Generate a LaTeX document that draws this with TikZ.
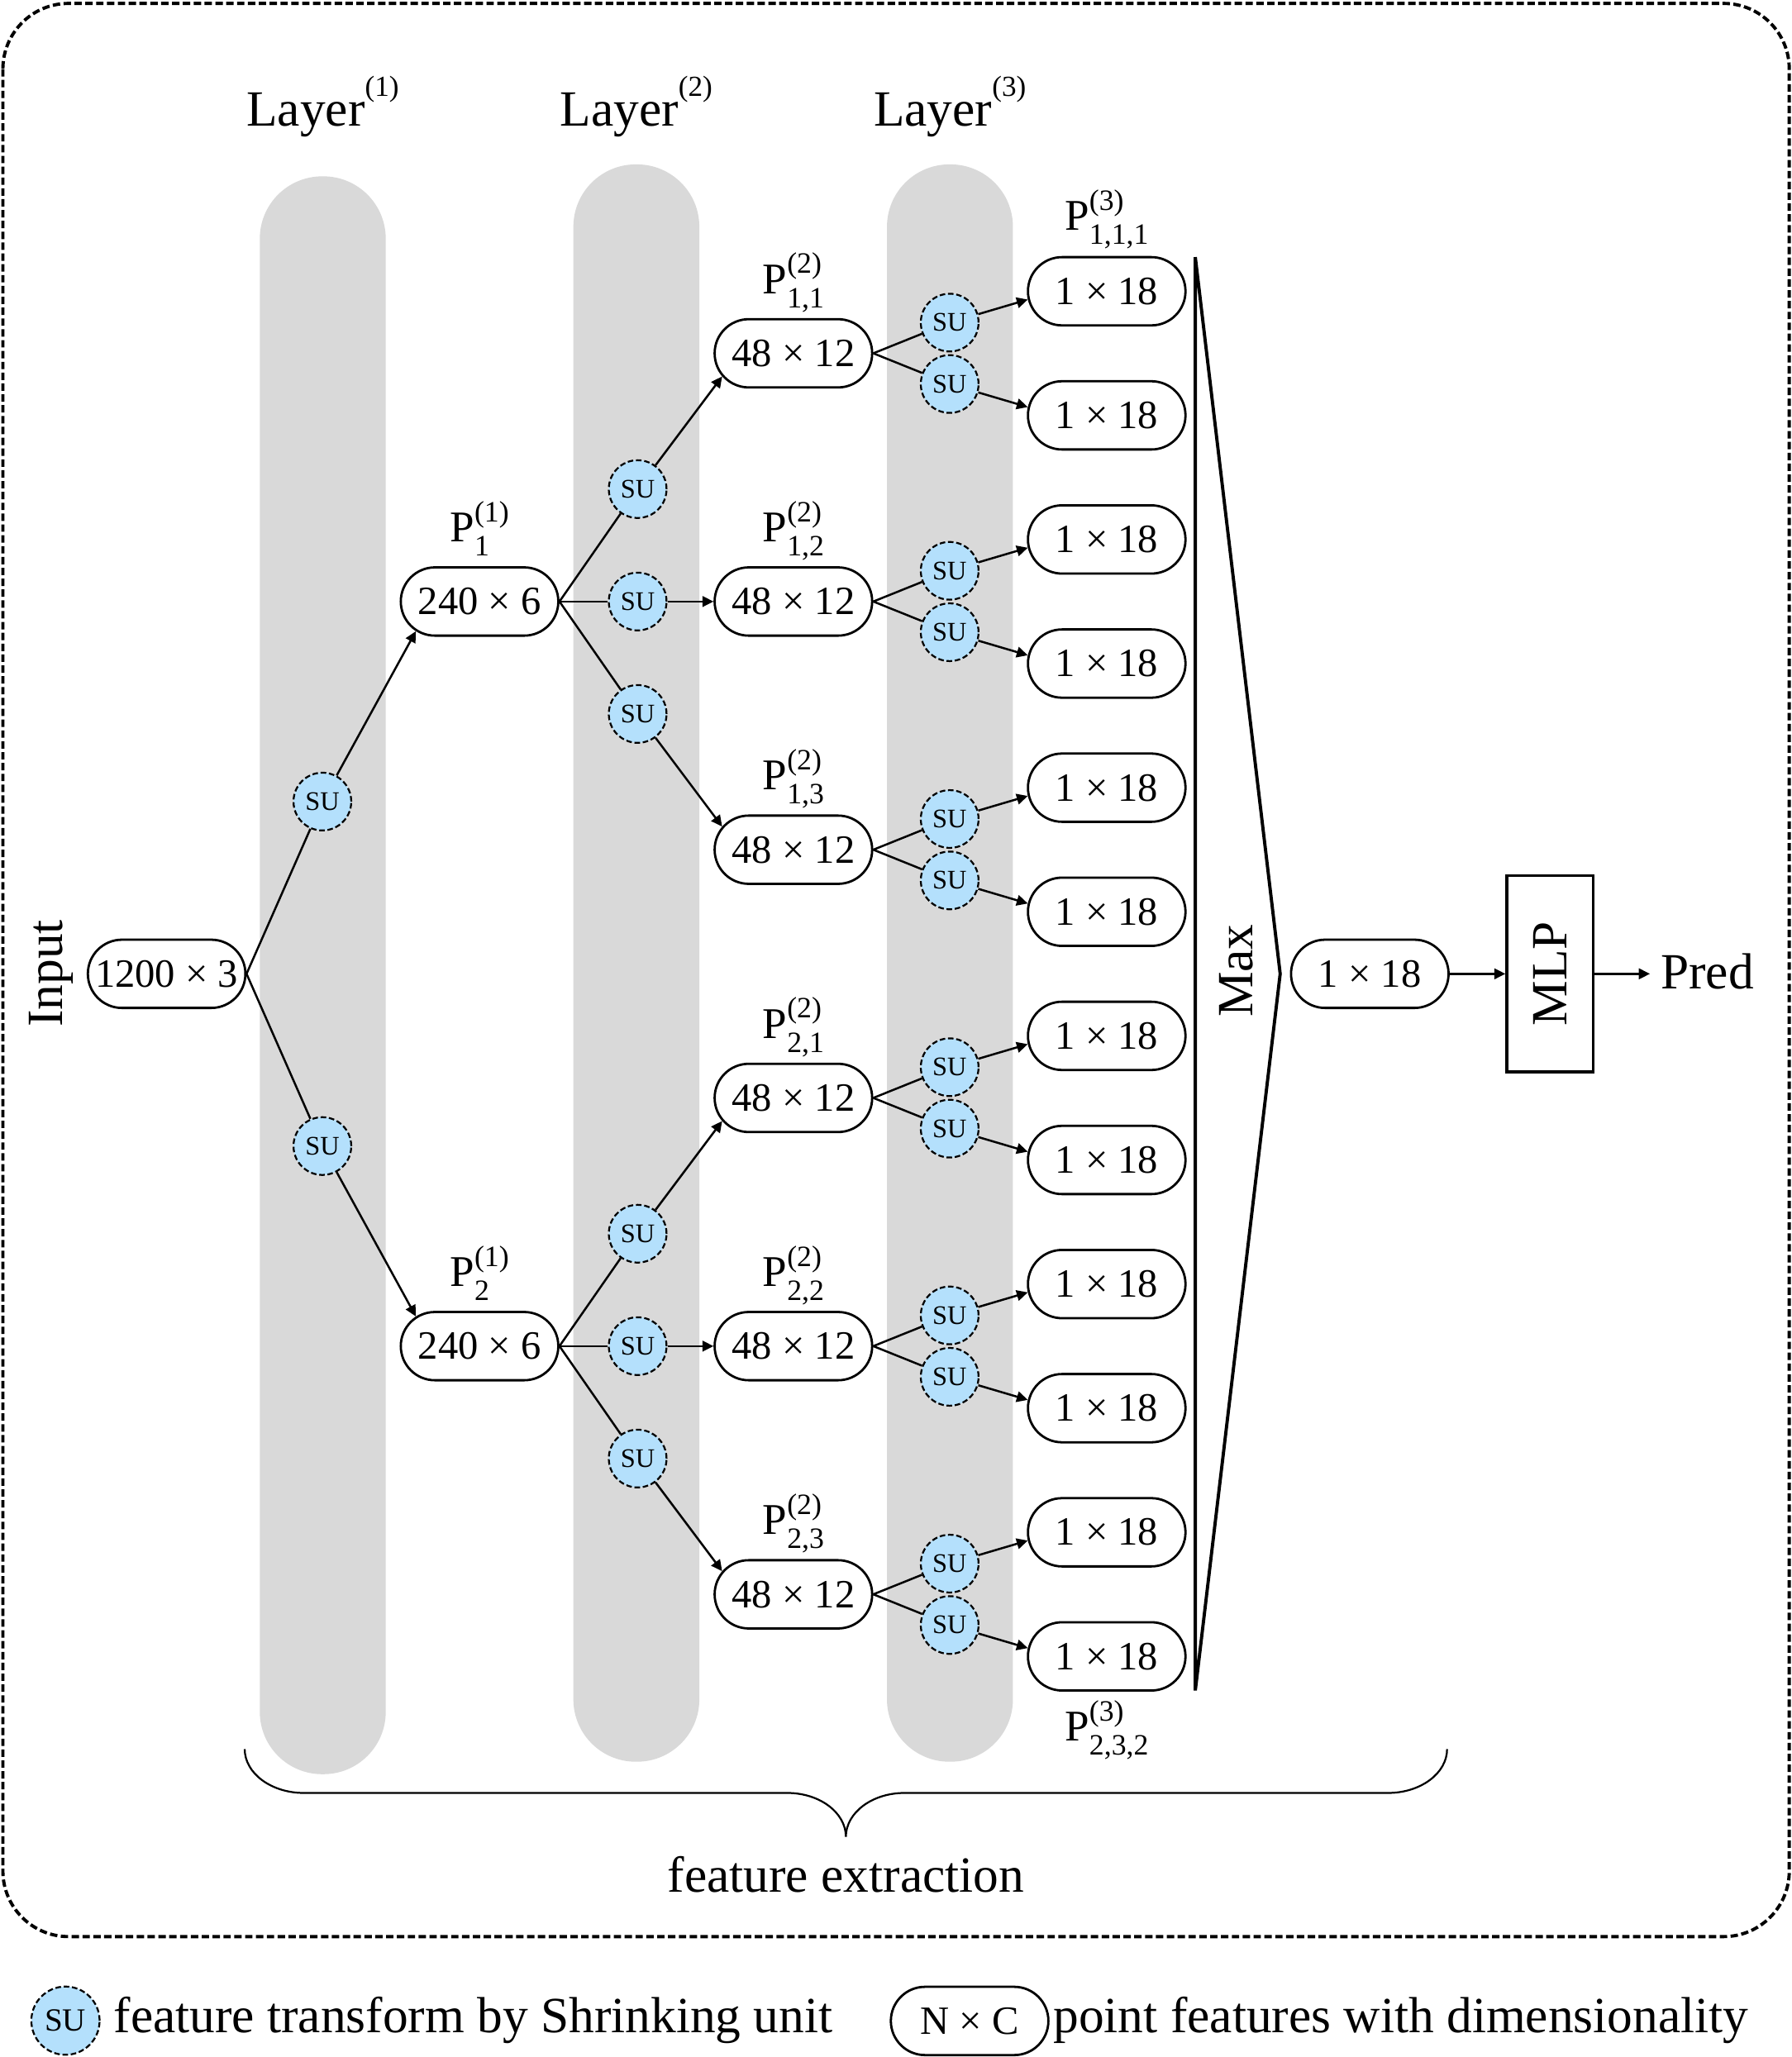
\documentclass[tikz,border=0pt]{standalone}
\usepackage{fontspec}
\setmainfont{Liberation Serif}
\usetikzlibrary{shapes.misc,arrows.meta}
\definecolor{barg}{RGB}{217,217,217}
\definecolor{sublue}{RGB}{180,224,252}
\newcommand{\PL}[2]{P\raisebox{-3.0pt}{\fontsize{6.4}{7.4}\selectfont\begin{tabular}[b]{@{}l@{}}(#1)\\#2\end{tabular}}}
\newcommand{\LL}[1]{Layer\raisebox{6.4pt}{\fontsize{6.3}{7}\selectfont(#1)}}
\begin{document}
\begin{tikzpicture}[x=0.01cm,y=-0.01cm,
  pill/.style={rounded rectangle, draw, line width=0.5pt, minimum width=1.2cm, minimum height=0.52cm, inner sep=0pt, font=\fontsize{8.7}{10}\selectfont, fill=white},
  su/.style={circle, draw, dash pattern=on 1.2pt off 0.6pt, line width=0.4pt, fill=sublue, minimum size=0.44cm, inner sep=0pt, font=\fontsize{5.8}{7}\selectfont},
  bigtxt/.style={font=\fontsize{11}{13}\selectfont, inner sep=0pt},
  plab/.style={font=\fontsize{9.5}{11}\selectfont, inner sep=0pt, anchor=base},
  conn/.style={line width=0.45pt},
  arr/.style={conn, -{Triangle[length=2.4pt,width=2.3pt]}},
  bar/.style={fill=barg, rounded corners=0.475cm}
]
\useasboundingbox (0,0) rectangle (1365.8,1568);
% outer frame
\draw[line width=0.7pt, dash pattern=on 1.6pt off 0.75pt, rounded corners=0.5cm] (2.2,2.6) rectangle (1363.7,1476.2);
% layer bars
\fill[bar] (198,134.4) rectangle (294,1352.4);
\fill[bar] (437,125.3) rectangle (533,1342.9);
\fill[bar] (676,125.3) rectangle (772,1342.9);
% layer labels
\node[bigtxt, anchor=base] (L1) at (246,95.8) {\LL{1}};
\node[bigtxt, anchor=base] (L2) at (485,95.8) {\LL{2}};
\node[bigtxt, anchor=base] (L3) at (724,95.8) {\LL{3}};
% input
\node[bigtxt, anchor=base, rotate=90] (inlab) at (47.8,742) {Input};
\node[pill] (in) at (127,742.3) {1200 × 3};
% layer 1
\node[su] (s1a) at (245.7,611) {SU};
\node[su] (s1b) at (245.7,873.6) {SU};
\node[pill] (p1) at (365.5,458.5) {240 × 6};
\node[pill] (p2) at (365.5,1026.1) {240 × 6};
\node[plab] (lp1) at (365.5,413) {\PL{1}{1}};
\node[plab] (lp2) at (365.5,980.6) {\PL{1}{2}};
\draw[conn] (in.east) -- (s1a);
\draw[conn] (in.east) -- (s1b);
\draw[arr] (s1a) -- (p1.205);
\draw[arr] (s1b) -- (p2.155);
% layer 2
\foreach \j in {0,...,5}{
  \node[pill] (b\j) at (604.7,{269.3+189.2*\j}) {48 × 12};
}
\node[plab] (lb0) at (604.7,223.8) {\PL{2}{1,1}};
\node[plab] (lb1) at (604.7,413.0) {\PL{2}{1,2}};
\node[plab] (lb2) at (604.7,602.2) {\PL{2}{1,3}};
\node[plab] (lb3) at (604.7,791.4) {\PL{2}{2,1}};
\node[plab] (lb4) at (604.7,980.6) {\PL{2}{2,2}};
\node[plab] (lb5) at (604.7,1169.8) {\PL{2}{2,3}};
\node[su] (s2a) at (486,372.8) {SU};
\node[su] (s2b) at (486,458.5) {SU};
\node[su] (s2c) at (486,544.2) {SU};
\node[su] (s2d) at (486,940.4) {SU};
\node[su] (s2e) at (486,1026.1) {SU};
\node[su] (s2f) at (486,1111.8) {SU};
\draw[conn] (p1.east) -- (s2a);
\draw[conn] (p1.east) -- (s2b);
\draw[conn] (p1.east) -- (s2c);
\draw[conn] (p2.east) -- (s2d);
\draw[conn] (p2.east) -- (s2e);
\draw[conn] (p2.east) -- (s2f);
\draw[arr] (s2a) -- (b0.198);
\draw[arr] (s2b) -- (b1.west);
\draw[arr] (s2c) -- (b2.162);
\draw[arr] (s2d) -- (b3.198);
\draw[arr] (s2e) -- (b4.west);
\draw[arr] (s2f) -- (b5.162);
% layer 3
\foreach \k in {0,...,11}{
  \node[pill] (c\k) at (843.5,{222+94.6*\k}) {1 × 18};
}
\node[plab] (lc0) at (843.5,175.5) {\PL{3}{1,1,1}};
\node[plab] (lc11) at (843.5,1327.3) {\PL{3}{2,3,2}};
\foreach \j in {0,...,5}{
  \node[su] (ta\j) at (723.8,{269.3+189.2*\j-23.4}) {SU};
  \node[su] (tb\j) at (723.8,{269.3+189.2*\j+23.4}) {SU};
  \draw[conn] (b\j.east) -- (ta\j);
  \draw[conn] (b\j.east) -- (tb\j);
  \pgfmathtruncatemacro\u{2*\j}
  \pgfmathtruncatemacro\v{2*\j+1}
  \draw[arr] (ta\j) -- (c\u.186);
  \draw[arr] (tb\j) -- (c\v.174);
}
% max
\coordinate (mt) at (911,196);
\coordinate (mr) at (975.7,742.3);
\coordinate (mb) at (911,1288.6);
\draw[line width=0.7pt, line join=miter] (mt) -- (mr) -- (mb) -- cycle;
\node[bigtxt, anchor=base, rotate=90] (max) at (954.5,740) {Max};
% output
\node[pill] (fin) at (1044,742.3) {1 × 18};
\node[draw, line width=0.6pt, minimum width=0.658cm, minimum height=1.495cm, inner sep=0pt, font=\fontsize{11}{13}\selectfont] (mlp) at (1181.3,742.3) {\rotatebox{90}{MLP}};
\node[bigtxt, anchor=base west, inner xsep=0.075cm] (pred) at (1257.5,753.5) {Pred};
\draw[arr] (fin.east) -- (mlp.west);
\draw[arr] (mlp.east) -- (mlp.east -| pred.west);
% brace
\draw[line width=0.4pt] (186.5,1333.3) .. controls (186.5,1351.7) and (206.7,1366.7) .. (231.5,1366.7)
  -- (600,1366.7) .. controls (624.7,1366.7) and (644.7,1381.7) .. (644.7,1400.2)
  .. controls (644.7,1381.7) and (664.7,1366.7) .. (689.4,1366.7)
  -- (1057.9,1366.7) .. controls (1082.7,1366.7) and (1102.9,1351.7) .. (1102.9,1333.3);
\node[bigtxt, anchor=base] (fe) at (644.7,1442.2) {feature extraction};
% legend
\node[su, minimum size=0.52cm, font=\fontsize{7}{8}\selectfont] (lsu) at (49.9,1540.3) {SU};
\node[bigtxt, anchor=base west] (ltxt1) at (86,1549.7) {feature transform by Shrinking unit};
\node[pill] (lnc) at (739,1540.5) {N × C};
\node[bigtxt, anchor=base west] (ltxt2) at (802.2,1549.7) {point features with dimensionality};
\end{tikzpicture}
\end{document}
